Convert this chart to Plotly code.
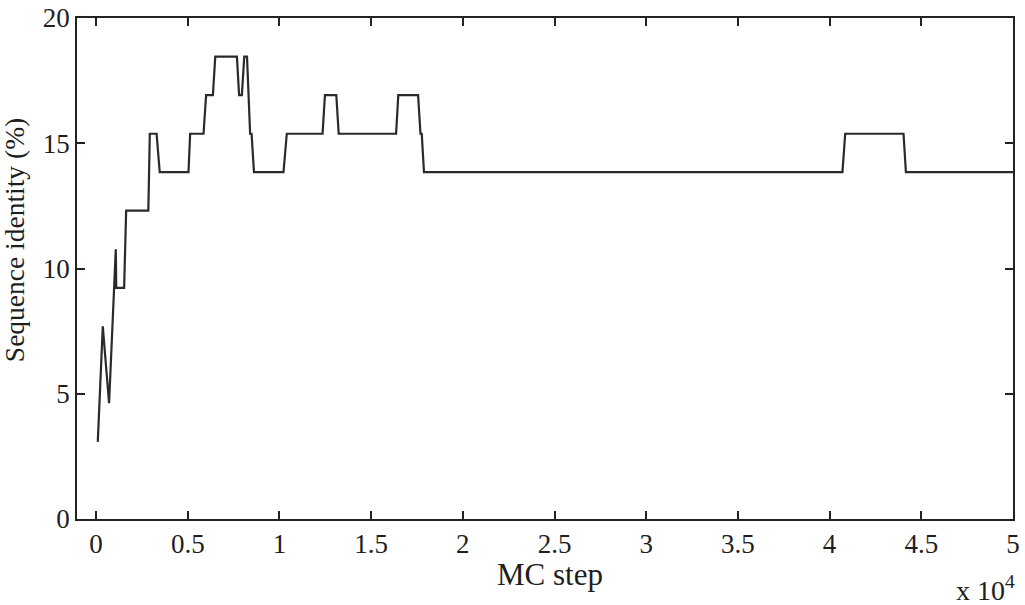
import plotly.graph_objects as go

# MC step (vertices of the traced identity curve)
mc_step = [93, 366, 710, 1075, 1100, 1530, 1640, 2850, 2930, 3300, 3470, 5040, 5130,
           5860, 6000, 6370, 6500, 7680, 7800, 7950, 8080, 8230, 8400, 8480, 8610,
           10220, 10400, 12350, 12480, 13100, 13230, 16360, 16480, 17560, 17690,
           17760, 17880, 40700, 40850, 44030, 44160, 50000]
# Sequence identity (%)
identity = [3.08, 7.69, 4.62, 10.77, 9.23, 9.23, 12.31, 12.31, 15.38, 15.38, 13.85,
            13.85, 15.38, 15.38, 16.92, 16.92, 18.46, 18.46, 16.92, 16.92, 18.46,
            18.46, 15.38, 15.38, 13.85, 13.85, 15.38, 15.38, 16.92, 16.92, 15.38,
            15.38, 16.92, 16.92, 15.38, 15.38, 13.85, 13.85, 15.38, 15.38, 13.85,
            13.85]

x_tickvals = [0, 5000, 10000, 15000, 20000, 25000, 30000, 35000, 40000, 45000, 50000]
x_ticktext = ["0", "0.5", "1", "1.5", "2", "2.5", "3", "3.5", "4", "4.5", "5"]
y_tickvals = [0, 5, 10, 15, 20]

FONT = "Liberation Serif"
TXT = "#1e1e1e"

fig = go.Figure()
fig.add_trace(go.Scatter(x=mc_step, y=identity, mode="lines",
                         line=dict(color="#2a2a2a", width=2.2), showlegend=False,
                         hoverinfo="skip"))

axis_common = dict(showgrid=False, zeroline=False, showline=True, linecolor="#222",
                   linewidth=1.8, mirror="ticks", ticks="inside", ticklen=8,
                   tickwidth=1.6, tickcolor="#222", automargin=False,
                   tickfont=dict(family=FONT, size=27, color=TXT))

fig.update_layout(
    width=1025, height=605,
    margin=dict(l=77, r=12, t=18, b=86),
    paper_bgcolor="white", plot_bgcolor="white",
    font=dict(family=FONT, color=TXT),
    xaxis=dict(range=[-1040, 50000], tickvals=x_tickvals, ticktext=x_ticktext,
               **axis_common),
    yaxis=dict(range=[0, 20], tickvals=y_tickvals, **axis_common),
    annotations=[
        dict(text="MC step", xref="paper", yref="paper", x=0.5053, y=-0.1098,
             xanchor="center", yanchor="middle", showarrow=False,
             font=dict(family=FONT, size=31, color=TXT)),
        dict(text="Sequence identity (%)", xref="paper", yref="paper", x=-0.066,
             y=0.557, xanchor="center", yanchor="middle", textangle=-90,
             showarrow=False, font=dict(family=FONT, size=27.5, color=TXT)),
        dict(text="x 10<sup>4</sup>", xref="paper", yref="paper",
             x=1.0043, y=-0.138, xanchor="right", yanchor="middle", showarrow=False,
             font=dict(family=FONT, size=28, color=TXT)),
    ],
)

fig.write_html("out.html")
